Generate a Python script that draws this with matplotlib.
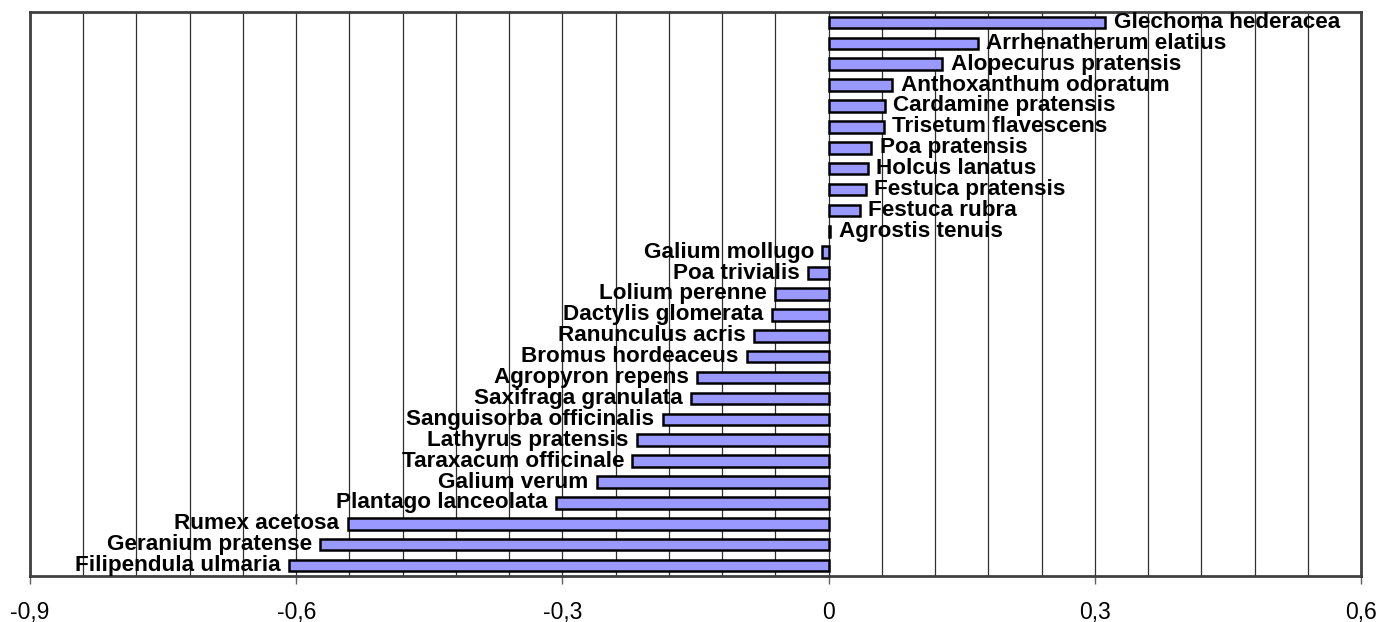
import numpy as np
import matplotlib.pyplot as plt
from matplotlib.ticker import MultipleLocator, FuncFormatter


# species, top to bottom as in the chart
species = [
    "Glechoma hederacea", "Arrhenatherum elatius", "Alopecurus pratensis",
    "Anthoxanthum odoratum", "Cardamine pratensis", "Trisetum flavescens",
    "Poa pratensis", "Holcus lanatus", "Festuca pratensis", "Festuca rubra",
    "Agrostis tenuis", "Galium mollugo", "Poa trivialis", "Lolium perenne",
    "Dactylis glomerata", "Ranunculus acris", "Bromus hordeaceus",
    "Agropyron repens", "Saxifraga granulata", "Sanguisorba officinalis",
    "Lathyrus pratensis", "Taraxacum officinale", "Galium verum",
    "Plantago lanceolata", "Rumex acetosa", "Geranium pratense",
    "Filipendula ulmaria",
]
values = [
    0.312, 0.168, 0.128, 0.072, 0.063, 0.062, 0.048, 0.044, 0.042, 0.035,
    0.002, -0.007, -0.023, -0.060, -0.064, -0.084, -0.092, -0.148, -0.155,
    -0.187, -0.216, -0.221, -0.261, -0.307, -0.542, -0.573, -0.608,
]

BAR_COLOR = "#9999ff"
SPINE_COLOR = "#404040"
LABEL_FONT = "Liberation Sans"

fig = plt.figure(figsize=(13.92, 6.22), dpi=100)
ax = fig.add_axes([30 / 1392, 46 / 622, 1331 / 1392, 564 / 622])

y = np.arange(len(species))
ax.barh(y, values, height=0.55, color=BAR_COLOR, edgecolor="black",
        linewidth=1.8, zorder=3)

# labels beside bar ends
for yi, name, v in zip(y, species, values):
    off = 6 if v >= 0 else -6
    ax.annotate(name, (v, yi), xytext=(off, 0), textcoords="offset points",
                ha="left" if v >= 0 else "right", va="center",
                fontsize=16.2, fontweight="bold", family=LABEL_FONT, zorder=4)

ax.set_xlim(-0.9, 0.6)
ax.set_ylim(len(species) - 0.5, -0.5)
ax.set_yticks([])

ax.xaxis.set_major_locator(MultipleLocator(0.3))
ax.xaxis.set_minor_locator(MultipleLocator(0.06))
ax.xaxis.set_major_formatter(
    FuncFormatter(lambda v, p: "0" if abs(v) < 1e-9 else f"{v:.1f}".replace(".", ",")))
ax.tick_params(axis="x", which="major", direction="out", length=6, width=1,
               color="#606060", pad=12, labelsize=16.5)
ax.tick_params(axis="x", which="minor", length=0)
for lbl in ax.get_xticklabels():
    lbl.set_family(LABEL_FONT)

ax.grid(True, axis="x", which="both", color="#303030", linewidth=0.9, zorder=0)
ax.set_axisbelow(True)

for s in ax.spines.values():
    s.set_color(SPINE_COLOR)
    s.set_linewidth(2)

fig.savefig("out.png", dpi=100)
